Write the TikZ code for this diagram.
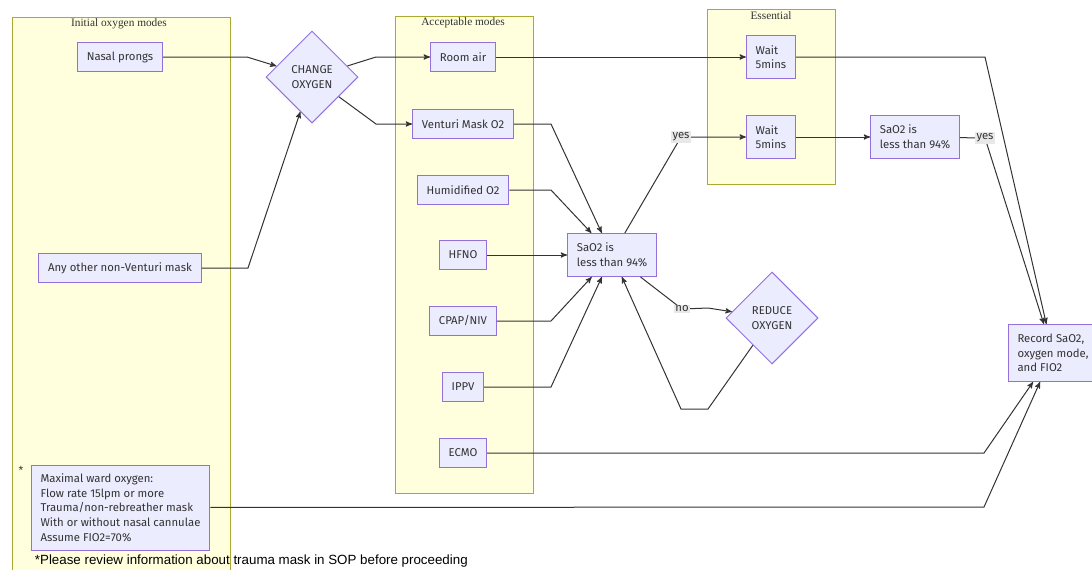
\documentclass[tikz,border=0pt]{standalone}
\usepackage{fontspec}
\setmainfont{Liberation Serif}
\setsansfont{Fira Sans}
\newfontfamily\notefont{Liberation Sans}
\usetikzlibrary{arrows,shapes.geometric}

\definecolor{boxfill}{HTML}{ECECFF}
\definecolor{boxline}{HTML}{9370DB}
\definecolor{grpfill}{HTML}{FFFFDE}
\definecolor{grpline}{HTML}{AAAA33}
\definecolor{ink}{HTML}{333333}
\definecolor{lblfill}{HTML}{E8E8E8}

\begin{document}
\begin{tikzpicture}[->,>=stealth',x=0.75pt,y=-0.75pt,line width=0.75pt,
                    draw=ink,text=ink]
  \tikzstyle{box}=[rectangle,draw=boxline,fill=boxfill,text=ink,
                   font=\sffamily\fontsize{8.5}{11}\selectfont,
                   inner xsep=7pt,minimum height=21.75pt]
  \tikzstyle{dec}=[diamond,aspect=1,draw=boxline,fill=boxfill,text=ink,align=center,
                   font=\sffamily\fontsize{8.5}{11}\selectfont,
                   minimum size=69pt,inner sep=0pt]
  \tikzstyle{grp}=[-,draw=grpline,fill=grpfill]
  \tikzstyle{grptitle}=[text=ink,font=\rmfamily\fontsize{8.5}{10}\selectfont]
  \tikzstyle{lbl}=[fill=lblfill,text=ink,inner sep=1pt,
                   font=\sffamily\fontsize{8.5}{10}\selectfont]

  \useasboundingbox (0,0) rectangle (1092,569);

  % groups
  \draw[grp] (12,17) rectangle (230,580);
  \draw[grp] (395,16) rectangle (533,493);
  \draw[grp] (707,9) rectangle (835,184);
  \node[grptitle] (g1) at (119,24) {Initial oxygen modes};
  \node[grptitle] (g2) at (463,23) {Acceptable modes};
  \node[grptitle] (g3) at (771,16) {Essential};

  % initial modes
  \node[box] 				(np)   at (120,57)  {Nasal prongs};
  \node[box] 				(any)  at (120,268) {Any other non-Venturi mask};
  \node[box,align=left,minimum height=63.75pt] (max) at (120.5,507.5) {Maximal ward oxygen:\\Flow rate 15lpm or more\\Trauma/non-rebreather mask\\With or without nasal cannulae\\Assume FIO2=70\%};
  \node[text=ink,font=\notefont\fontsize{9}{10}\selectfont] (star) at (21,470) {*};

  \node[dec] 				(cho)  at (312,77)  {CHANGE\\OXYGEN};

  % acceptable modes
  \node[box] 				(ra)   at (463,57)  {Room air};
  \node[box] 				(vm)   at (463,124) {Venturi Mask O2};
  \node[box] 				(hum)  at (463,190) {Humidified O2};
  \node[box] 				(hfno) at (463,255) {HFNO};
  \node[box] 				(cpap) at (463,321) {CPAP/NIV};
  \node[box] 				(ippv) at (463,387) {IPPV};
  \node[box] 				(ecmo) at (463,453) {ECMO};

  \node[box,align=left,minimum height=32.25pt] (A) at (612,255) {SaO2 is\\less than 94\%};
  \node[dec] 				(red)  at (772,318) {REDUCE\\OXYGEN};

  % essential
  \node[box,align=left,minimum height=32.25pt] (w1) at (771,57)  {Wait\\5mins};
  \node[box,align=left,minimum height=32.25pt] (w2) at (771,137) {Wait\\5mins};
  \node[box,align=left,minimum height=32.25pt] (B)  at (915,137) {SaO2 is\\less than 94\%};

  \node[box,align=left,minimum height=42.75pt] (rec) at (1053,353) {Record SaO2,\\oxygen mode,\\and FIO2};

  \node[anchor=west,text=black,font=\notefont\fontsize{10}{11}\selectfont] (note) at (30,561)
       {*Please review information about trauma mask in SOP before proceeding};

  % connectors
  \draw (np)   -- (247,57)  -- (cho);
  \draw (any)  -- (248,268) -- (cho);
  \draw (cho)  -- (376,57)  -- (ra);
  \draw (cho)  -- (376,124) -- (vm);
  \draw (ra)   -- (w1);
  \draw (vm)   -- (551,124) -- (A);
  \draw (hum)  -- (551,190) -- (A);
  \draw (hfno) -- (A);
  \draw (cpap) -- (551,321) -- (A);
  \draw (ippv) -- (551,387) -- (A);
  \draw (A)    -- (681,137) node[lbl] {yes} -- (w2);
  \draw (A)    -- (682,309) node[lbl] {no} -- (708,308) -- (red);
  \draw (red)  -- (708,409) -- (681,409) -- (A);
  \draw (w2)   -- (B);
  \draw (w1)   -- (985,57)  -- (rec);
  \draw (B)    -- (985,138) node[lbl] {yes} -- (rec);
  \draw (ecmo) -- (984,453) -- (rec);
  \draw (max)  -- (984,507) -- (rec);
\end{tikzpicture}
\end{document}
